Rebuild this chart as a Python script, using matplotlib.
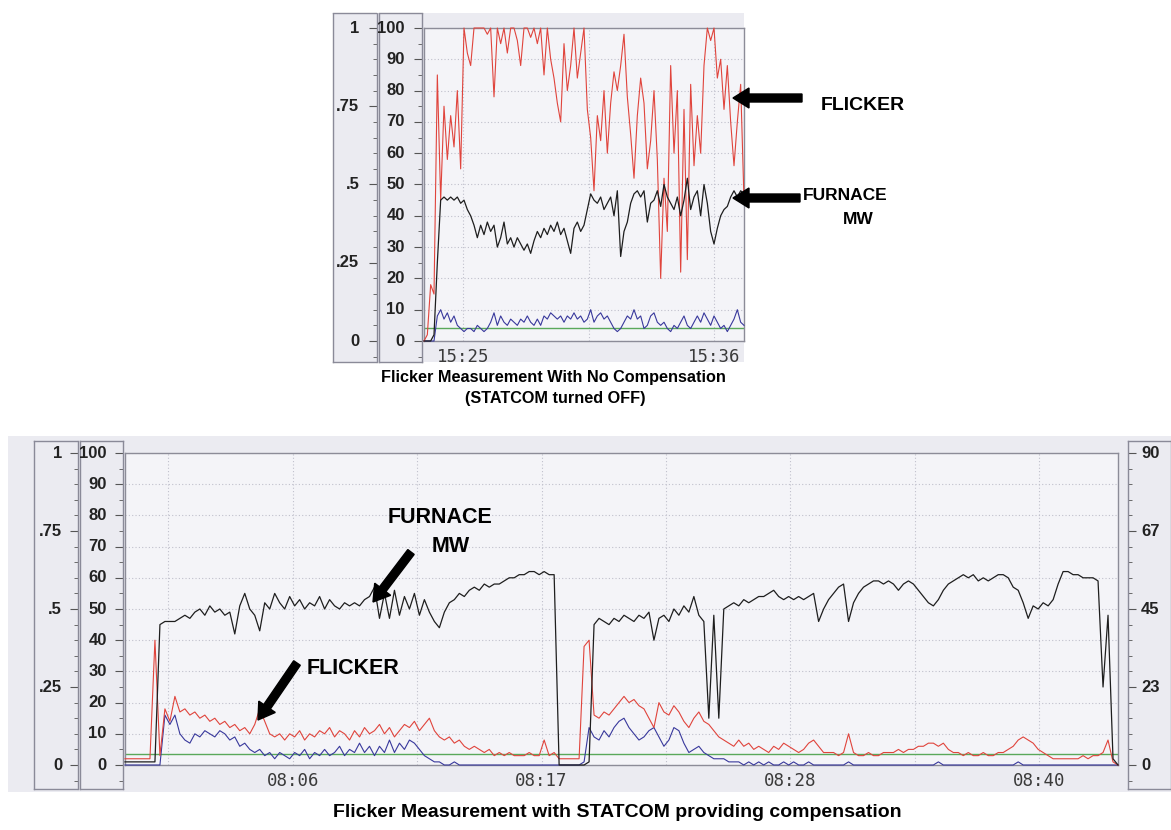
import numpy as np
import matplotlib.pyplot as plt
import matplotlib.ticker as mticker
from matplotlib.patches import Rectangle, FancyArrow

# --- STATCOM off run (minutes after 15:00), samples evenly spaced over the window
off_start, off_end = 23.3, 37.3
off_flicker = [0, 2, 18, 15, 85, 45, 75, 58, 72, 62,
               80, 55, 100, 92, 88, 100, 100, 100, 100, 98,
               100, 78, 100, 95, 100, 92, 100, 100, 96, 88,
               100, 100, 97, 100, 95, 100, 85, 100, 90, 84,
               76, 70, 95, 80, 88, 100, 84, 92, 100, 74,
               65, 48, 72, 64, 80, 60, 76, 86, 80, 88,
               98, 78, 66, 52, 72, 84, 76, 55, 64, 80,
               58, 20, 52, 35, 88, 60, 80, 22, 74, 26,
               82, 56, 72, 60, 88, 100, 96, 100, 84, 90,
               74, 88, 70, 56, 70, 82, 45]
off_mw = [0, 0, 0, 2, 25, 45, 46, 45, 46, 45,
          46, 44, 45, 42, 40, 37, 33, 37, 34, 38,
          35, 37, 30, 33, 38, 31, 33, 30, 33, 31,
          29, 31, 28, 32, 35, 33, 36, 34, 37, 35,
          38, 34, 36, 32, 28, 36, 38, 35, 37, 42,
          47, 45, 44, 46, 42, 44, 46, 40, 48, 27,
          35, 38, 44, 47, 48, 46, 48, 38, 44, 45,
          48, 43, 50, 46, 44, 42, 46, 40, 45, 52,
          42, 46, 48, 40, 50, 44, 35, 31, 36, 40,
          42, 43, 46, 48, 46, 48, 47]
off_blue = [0, 0, 0, 0, 8, 10, 7, 9, 6, 8,
            5, 4, 3, 4, 4, 3, 5, 4, 3, 4,
            6, 9, 5, 8, 6, 5, 7, 6, 5, 7,
            6, 8, 6, 5, 7, 5, 8, 7, 9, 8,
            7, 8, 6, 8, 7, 9, 7, 8, 6, 7,
            10, 6, 8, 9, 7, 8, 6, 4, 3, 4,
            6, 8, 7, 10, 7, 8, 4, 5, 8, 9,
            6, 5, 6, 4, 3, 5, 4, 6, 8, 5,
            4, 6, 8, 6, 9, 7, 5, 8, 6, 4,
            5, 3, 5, 7, 10, 6, 5]
off_limit = 4
off_grid = [25.0, 30.5, 36.0]
off_labels = ['15:25', '', '15:36']

# --- STATCOM on run (minutes after 08:00)
on_start, on_end = -1.65, 43.6
on_flicker = [2, 2, 2, 2, 2, 2, 40, 3, 18, 14,
              22, 17, 18, 16, 17, 15, 16, 14, 15, 13,
              14, 12, 13, 11, 12, 10, 13, 18, 14, 10,
              9, 10, 8, 10, 9, 11, 8, 10, 9, 11,
              10, 12, 9, 11, 10, 8, 11, 9, 12, 10,
              11, 13, 10, 12, 9, 11, 13, 12, 14, 11,
              13, 15, 11, 9, 8, 9, 7, 8, 6, 5,
              6, 5, 4, 5, 3, 4, 3, 4, 3, 3,
              3, 4, 3, 3, 8, 3, 4, 2, 2, 2,
              2, 2, 38, 40, 16, 15, 17, 16, 18, 20,
              22, 20, 21, 19, 18, 15, 12, 20, 17, 16,
              19, 17, 14, 12, 15, 17, 14, 13, 11, 9,
              8, 7, 6, 8, 6, 7, 5, 6, 5, 4,
              6, 5, 7, 6, 5, 4, 5, 7, 8, 6,
              4, 4, 4, 3, 4, 10, 4, 3, 3, 4,
              3, 3, 4, 4, 4, 5, 4, 5, 5, 6,
              6, 7, 7, 6, 7, 5, 4, 4, 3, 4,
              3, 3, 4, 3, 3, 4, 4, 5, 6, 8,
              9, 8, 7, 5, 4, 3, 2, 2, 2, 2,
              2, 2, 3, 2, 3, 3, 4, 8, 1, 0]
on_mw = [1, 1, 1, 1, 1, 1, 1, 45, 46, 46,
         46, 47, 48, 47, 49, 50, 48, 51, 49, 50,
         48, 49, 42, 51, 55, 50, 48, 43, 52, 50,
         55, 52, 50, 54, 51, 53, 50, 52, 51, 54,
         50, 53, 51, 50, 52, 51, 52, 51, 53, 54,
         57, 47, 55, 47, 56, 48, 54, 50, 55, 48,
         53, 49, 46, 44, 49, 52, 53, 55, 54, 56,
         57, 56, 58, 57, 58, 58, 59, 60, 60, 61,
         61, 62, 62, 61, 62, 61, 61, 0, 0, 0,
         0, 0, 0, 1, 45, 47, 46, 45, 47, 46,
         48, 47, 46, 48, 47, 49, 40, 47, 48, 46,
         50, 48, 51, 49, 54, 48, 46, 15, 48, 15,
         50, 51, 52, 51, 53, 52, 53, 54, 54, 55,
         56, 54, 53, 54, 53, 54, 53, 54, 55, 46,
         50, 53, 55, 57, 58, 46, 52, 55, 57, 58,
         59, 59, 58, 59, 58, 56, 58, 59, 58, 56,
         54, 52, 51, 53, 56, 58, 59, 60, 61, 60,
         61, 59, 60, 59, 60, 61, 61, 60, 57, 56,
         52, 47, 51, 50, 52, 51, 53, 58, 62, 62,
         61, 61, 60, 60, 60, 59, 25, 48, 2, 0]
on_blue = [0, 0, 0, 0, 0, 0, 0, 0, 16, 13,
           16, 10, 8, 7, 10, 9, 11, 10, 9, 11,
           10, 8, 9, 6, 7, 5, 4, 5, 3, 4,
           2, 4, 3, 2, 4, 3, 5, 2, 4, 3,
           5, 3, 4, 6, 3, 5, 4, 7, 4, 6,
           3, 6, 4, 8, 4, 7, 5, 8, 7, 5,
           3, 2, 1, 1, 0, 0, 1, 0, 0, 0,
           0, 0, 0, 0, 0, 0, 0, 0, 0, 0,
           0, 0, 0, 0, 0, 0, 0, 0, 0, 0,
           0, 0, 1, 12, 9, 8, 11, 9, 12, 14,
           15, 12, 10, 8, 9, 11, 12, 9, 6, 8,
           12, 11, 7, 4, 5, 6, 4, 3, 2, 2,
           2, 1, 1, 1, 0, 1, 0, 1, 0, 1,
           0, 0, 1, 0, 1, 0, 0, 1, 0, 0,
           0, 0, 0, 0, 0, 1, 0, 0, 0, 0,
           0, 0, 0, 0, 0, 0, 0, 0, 0, 0,
           0, 0, 0, 1, 0, 0, 0, 0, 0, 0,
           0, 0, 0, 0, 0, 0, 0, 0, 0, 1,
           0, 0, 0, 0, 0, 0, 0, 0, 0, 0,
           0, 0, 0, 0, 0, 0, 0, 0, 0, 0]
on_limit = 3.5
on_grid = [0.33, 6.0, 11.67, 17.33, 23.0, 28.67, 34.33, 40.0]
on_labels = ['', '08:06', '', '08:17', '', '08:28', '', '08:40']

# scales
pst_ticks = [0, 25, 50, 75, 100]
pst_labels = ['0', '.25', '.5', '.75', '1']
pct_ticks = list(range(0, 101, 10))
mw_ticks = [0, 22.5, 45, 67.5, 90]
mw_labels = ['0', '23', '45', '67', '90']

panel_bg = '#ebebf1'
plot_bg = '#f4f4f8'
grid_col = '#c0c0cc'
c_red = '#e0443c'
c_black = '#1e1e1e'
c_blue = '#38389c'
c_green = '#5aa85a'
num_font = ['Liberation Sans', 'DejaVu Sans']
title_font = ['Liberation Sans', 'DejaVu Sans']

W, H = 1171, 830
fig = plt.figure(figsize=(W / 100, H / 100), dpi=100)


def rect(x0, y0, x1, y1):
    return [x0 / W, 1 - y1 / H, (x1 - x0) / W, (y1 - y0) / H]


def panel(x0, y0, x1, y1):
    fig.add_artist(Rectangle((x0 / W, 1 - y1 / H), (x1 - x0) / W, (y1 - y0) / H,
                             transform=fig.transFigure, facecolor=panel_bg,
                             edgecolor='none', zorder=0))


def scale_box(x0, x1, y0, y1, y_top, y_zero, ticks, labels, frac, factor=1.0, side='right'):
    ax = fig.add_axes(rect(x0, y0, x1, y1))
    ax.set_facecolor(panel_bg)
    ppu = (y_zero - y_top) / 100.0
    ax.set_ylim((y_zero - y1) / ppu * factor, (y_zero - y0) / ppu * factor)
    ax.set_xlim(0, 1)
    ax.set_xticks([])
    for s in ax.spines.values():
        s.set_linestyle((0, (1, 1)))
        s.set_color('#8a8a98')
        s.set_linewidth(1)
    ax.set_yticks(ticks)
    ax.yaxis.set_minor_locator(mticker.MultipleLocator(5 * factor))
    if side == 'right':
        ax.tick_params(axis='y', which='both', left=False, right=True, labelleft=False,
                       labelright=False, direction='in', color='#555555')
        ha = 'right'
    else:
        ax.tick_params(axis='y', which='both', left=True, right=False, labelleft=False,
                       labelright=False, direction='in', color='#555555')
        ha = 'left'
    ax.tick_params(axis='y', which='major', length=6, width=0.8)
    ax.tick_params(axis='y', which='minor', length=3, width=0.6)
    for t, lab in zip(ticks, labels):
        ax.text(frac, t, lab, ha=ha, va='center', fontsize=12, fontweight='bold',
                family=num_font, color='#222222', transform=ax.get_yaxis_transform())
    return ax


def trend(x0, x1, y_top, y_zero, t0, t1, flk, mw, blue, limit, grid, glabels):
    ax = fig.add_axes(rect(x0, y_top, x1, y_zero))
    ax.set_facecolor(plot_bg)
    ax.set_xlim(t0, t1)
    ax.set_ylim(0, 100)
    ax.axhline(limit, color=c_green, lw=1.0, zorder=2)
    ax.plot(np.linspace(t0, t1, len(blue)), blue, color=c_blue, lw=0.8, zorder=3, clip_on=False)
    ax.plot(np.linspace(t0, t1, len(mw)), mw, color=c_black, lw=0.9, zorder=4, clip_on=False)
    ax.plot(np.linspace(t0, t1, len(flk)), flk, color=c_red, lw=0.8, zorder=3, clip_on=False)
    ax.set_yticks(pct_ticks)
    ax.set_xticks(grid)
    ax.set_xticklabels(glabels, family='DejaVu Sans Mono', fontsize=12.5, color='#3a3a3a')
    ax.tick_params(axis='both', length=0, labelleft=False)
    ax.tick_params(axis='x', pad=5)
    ax.grid(True, ls=(0, (1, 2)), color=grid_col, lw=0.8)
    for s in ax.spines.values():
        s.set_color('#8c8c98')
        s.set_linewidth(1)
    return ax


# ---- top chart: no compensation
panel(333, 13, 744, 362)
scale_box(333, 377, 13, 362, 28, 341, pst_ticks, pst_labels, 0.6)
scale_box(379, 422, 13, 362, 28, 341, pct_ticks, [str(v) for v in pct_ticks], 0.6)
trend(424, 744, 28, 341, off_start, off_end, off_flicker, off_mw, off_blue,
      off_limit, off_grid, off_labels)

# ---- bottom chart: STATCOM compensation
panel(8, 436, 1171, 792)
scale_box(34, 78, 441, 789, 453, 765, pst_ticks, pst_labels, 0.64)
scale_box(80, 123, 441, 789, 453, 765, pct_ticks, [str(v) for v in pct_ticks], 0.62)
scale_box(1128, 1171, 441, 789, 453, 765, mw_ticks, mw_labels, 0.3, factor=0.9, side='left')
trend(125, 1118, 453, 765, on_start, on_end, on_flicker, on_mw, on_blue,
      on_limit, on_grid, on_labels)

# ---- annotations and captions (pixel overlay)
ov = fig.add_axes([0, 0, 1, 1], facecolor='none')
ov.set_xlim(0, W)
ov.set_ylim(H, 0)
ov.axis('off')

tkw = dict(ha='center', va='center', fontweight='bold', family=title_font, color='black')
ov.text(553, 377, 'Flicker Measurement With No Compensation', fontsize=11.7, **tkw)
ov.text(555, 398, '(STATCOM turned OFF)', fontsize=11.7, **tkw)
ov.text(617, 812, 'Flicker Measurement with STATCOM providing compensation', fontsize=14, **tkw)

ov.text(863, 106, 'FLICKER', fontsize=14, **tkw)
ov.text(845, 195, 'FURNACE', fontsize=12.5, **tkw)
ov.text(858, 219, 'MW', fontsize=12.5, **tkw)
ov.text(440, 517, 'FURNACE', fontsize=15.5, **tkw)
ov.text(451, 546, 'MW', fontsize=15.5, **tkw)
ov.text(353, 668, 'FLICKER', fontsize=15.5, **tkw)

akw = dict(width=8, head_width=20, head_length=16, length_includes_head=True,
           color='black', zorder=10)
ov.add_patch(FancyArrow(802, 98, -69, 0, **akw))
ov.add_patch(FancyArrow(800, 198, -67, 0, **akw))
ov.add_patch(FancyArrow(411, 552, -38, 50, **akw))
ov.add_patch(FancyArrow(297, 663, -39, 57, **akw))

fig.savefig('out.png', dpi=100, facecolor='white')
